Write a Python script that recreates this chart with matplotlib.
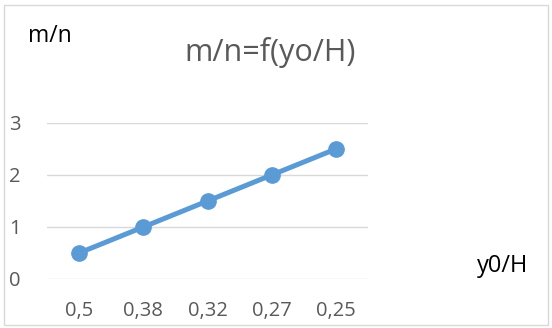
import matplotlib
matplotlib.use("Agg")
import matplotlib.pyplot as plt
from matplotlib.patches import Rectangle

# data
ratios = ["0,5", "0,38", "0,32", "0,27", "0,25"]
mn_values = [0.5, 1.0, 1.5, 2.0, 2.5]
y_ticks = [0, 1, 2, 3]

plt.rcParams["font.family"] = ["Open Sans", "DejaVu Sans"]

fig = plt.figure(figsize=(5.52, 3.28), dpi=100)
W, H = 552, 328
ax = fig.add_axes([47 / W, (H - 279) / H, (368 - 47) / W, (279 - 123) / H])

x = range(len(ratios))
ax.plot(x, mn_values, color="#5B9BD5", linewidth=3.6, marker="o",
        markersize=11, solid_capstyle="round", zorder=3)

ax.set_xlim(-0.5, len(ratios) - 0.5)
ax.set_ylim(0, 3)
ax.set_xticks(list(x))
ax.set_xticklabels(ratios)
ax.set_yticks(y_ticks)
ax.grid(axis="y", color="#D9D9D9", linewidth=1)
ax.set_axisbelow(True)
for s in ax.spines.values():
    s.set_visible(False)
ax.tick_params(axis="both", length=0, labelsize=14.5, labelcolor="#595959")
ax.tick_params(axis="x", pad=16)
ax.tick_params(axis="y", pad=19)

fig.text(270 / W, 1 - 53 / H, "m/n=f(yo/H)", ha="center", va="center",
         fontsize=22, color="#595959")
fig.text(50 / W, 1 - 36 / H, "m/n", ha="center", va="center",
         fontsize=16.5, color="black")
fig.text(503 / W, 1 - 266 / H, "y0/H", ha="center", va="center",
         fontsize=17, color="black")

# outer chart frame
fig.patches.append(Rectangle((4 / W, 3 / H), 544 / W, 320 / H, transform=fig.transFigure,
                             fill=False, edgecolor="#D9D9D9", linewidth=1))

fig.savefig("out.png", dpi=100)
